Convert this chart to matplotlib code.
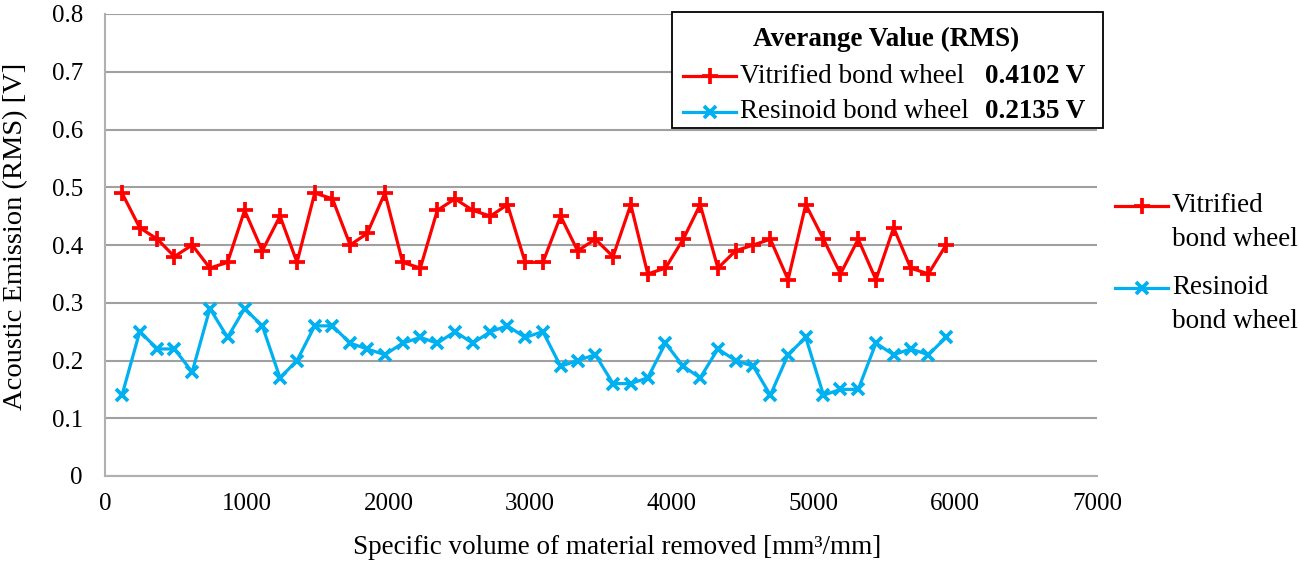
import matplotlib
matplotlib.use("Agg")
import matplotlib.pyplot as plt
from matplotlib.lines import Line2D
from matplotlib.patches import Rectangle

plt.rcParams["font.family"] = ["Liberation Serif", "DejaVu Serif"]

# Datos
volumen = [120, 245, 370, 490, 615, 740, 865, 985, 1110, 1235, 1355, 1480,
           1605, 1730, 1850, 1975, 2100, 2225, 2345, 2470, 2595, 2720, 2840, 2965,
           3090, 3215, 3335, 3460, 3585, 3710, 3830, 3955, 4080, 4200, 4325, 4450,
           4575, 4695, 4820, 4945, 5070, 5190, 5315, 5440, 5565, 5685, 5810, 5935]

vitrified = [0.49, 0.43, 0.41, 0.38, 0.40, 0.36, 0.37, 0.46, 0.39, 0.45, 0.37, 0.49,
             0.48, 0.40, 0.42, 0.49, 0.37, 0.36, 0.46, 0.48, 0.46, 0.45, 0.47, 0.37,
             0.37, 0.45, 0.39, 0.41, 0.38, 0.47, 0.35, 0.36, 0.41, 0.47, 0.36, 0.39,
             0.40, 0.41, 0.34, 0.47, 0.41, 0.35, 0.41, 0.34, 0.43, 0.36, 0.35, 0.40]

resinoid = [0.14, 0.25, 0.22, 0.22, 0.18, 0.29, 0.24, 0.29, 0.26, 0.17, 0.20, 0.26,
            0.26, 0.23, 0.22, 0.21, 0.23, 0.24, 0.23, 0.25, 0.23, 0.25, 0.26, 0.24,
            0.25, 0.19, 0.20, 0.21, 0.16, 0.16, 0.17, 0.23, 0.19, 0.17, 0.22, 0.20,
            0.19, 0.14, 0.21, 0.24, 0.14, 0.15, 0.15, 0.23, 0.21, 0.22, 0.21, 0.24]

etiquetas = ["Vitrified bond wheel", "Resinoid bond wheel"]
promedios = ["0.4102 V", "0.2135 V"]

rojo = "#FF0000"
azul = "#00B0F0"
estilos = [dict(color=rojo, marker="+", markersize=11, markeredgewidth=2.7, linewidth=2.3),
           dict(color=azul, marker="x", markersize=8.5, markeredgewidth=2.7, linewidth=2.3)]

W, H = 1299, 566
fig = plt.figure(figsize=(W / 100, H / 100), dpi=100)


def px(x, y):
    return x / W, 1 - y / H


ax = fig.add_axes([105 / W, 1 - 476 / H, (1097 - 105) / W, (476 - 14) / H])

ax.plot(volumen, vitrified, **estilos[0], zorder=3)
ax.plot(volumen, resinoid, **estilos[1], zorder=3)

ax.set_xlim(0, 7000)
ax.set_ylim(0, 0.8)
ax.set_xticks(range(0, 7001, 1000))
ax.set_yticks([i / 10 for i in range(9)])
ax.set_yticklabels(["0", "0.1", "0.2", "0.3", "0.4", "0.5", "0.6", "0.7", "0.8"])
ax.tick_params(length=0, labelsize=18)
ax.tick_params(axis="y", pad=16)
ax.tick_params(axis="x", pad=12)
ax.grid(axis="y", color="#A0A0A0", linewidth=1.5)
ax.set_axisbelow(True)
for s in ["top", "right"]:
    ax.spines[s].set_visible(False)
for s in ["left", "bottom"]:
    ax.spines[s].set_color("#B0B0B0")
    ax.spines[s].set_linewidth(1.5)

fig.text(*px(617, 548), "Specific volume of material removed [mm\u00b3/mm]", fontsize=19.5,
         ha="center", va="center")
fig.text(*px(16, 236), "Acoustic Emission (RMS) [V]", fontsize=20.5, rotation=90,
         ha="center", va="center")

# Cuadro de promedios
x0, y0 = px(672, 128)
x1, y1 = px(1103, 12)
fig.add_artist(Rectangle((x0, y0), x1 - x0, y1 - y0, transform=fig.transFigure,
                         facecolor="white", edgecolor="black", linewidth=1.3, zorder=5))
fig.text(*px(886, 39), "Averange Value (RMS)", fontsize=19.5, fontweight="bold",
         ha="center", va="center", zorder=6)
for i, yy in enumerate([76, 112]):
    xa, ya = px(683, yy)
    xb, _ = px(736, yy)
    fig.add_artist(Line2D([xa, (xa + xb) / 2, xb], [ya, ya, ya], transform=fig.transFigure,
                          markevery=[1], zorder=6, **estilos[i]))
    fig.text(*px(740, yy), etiquetas[i], fontsize=19.5, ha="left", va="center", zorder=6)
    fig.text(*px(985, yy), promedios[i], fontsize=19.5, fontweight="bold",
             ha="left", va="center", zorder=6)

# Leyenda derecha
lineas_der = [("Vitrified", "bond wheel"), ("Resinoid", "bond wheel")]
for i, yy in enumerate([206, 288]):
    xa, ya = px(1115, yy)
    xb, _ = px(1168, yy)
    fig.add_artist(Line2D([xa, (xa + xb) / 2, xb], [ya, ya, ya], transform=fig.transFigure,
                          markevery=[1], **estilos[i]))
    fig.text(*px(1172, yy), lineas_der[i][0], fontsize=19.5, ha="left", va="center")
    fig.text(*px(1172, yy + 33), lineas_der[i][1], fontsize=19.5, ha="left", va="center")

fig.savefig("out.png", dpi=100)
